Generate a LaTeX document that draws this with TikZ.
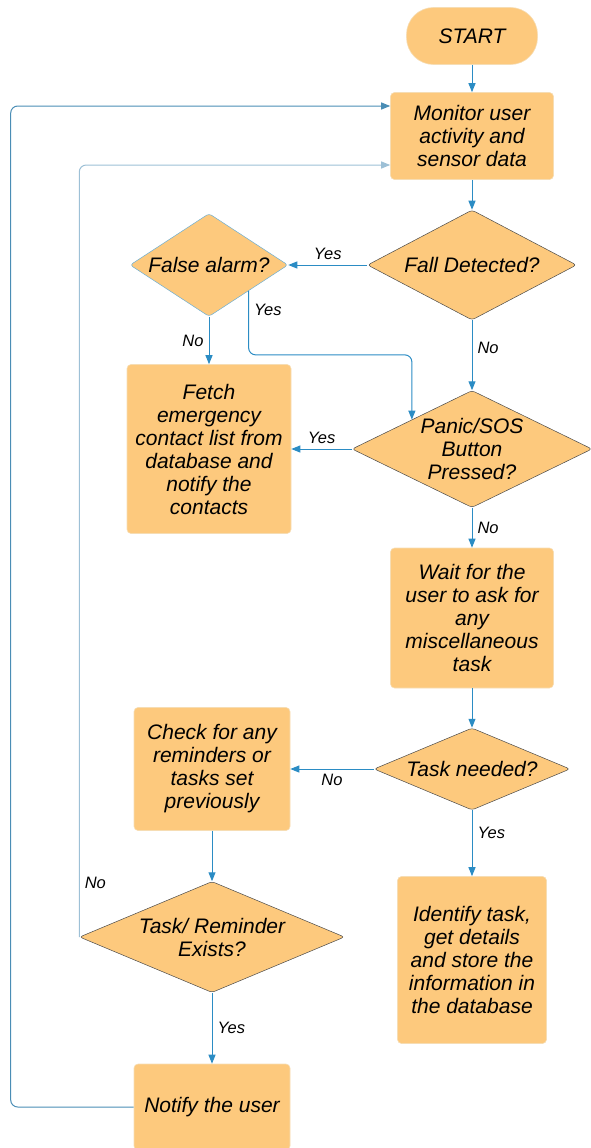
\documentclass[tikz,border=0pt]{standalone}
\usepackage{fontspec}
\setmainfont{Liberation Sans}
\usetikzlibrary{shapes.geometric,arrows.meta,calc}
\definecolor{boxfill}{HTML}{FDC97D}
\definecolor{boxedge}{HTML}{F6DDB4}
\definecolor{diaedge}{HTML}{4A4A4A}
\definecolor{arrowblue}{HTML}{2B8CC4}
\definecolor{loopblue}{HTML}{4A8DB5}
\definecolor{lightblue}{HTML}{9DC0D6}
\begin{document}
\begin{tikzpicture}[x=1pt,y=-1pt,
  txt/.style={font=\fontsize{21}{23}\selectfont\itshape},
  proc/.style={txt, rectangle, rounded corners=4pt, fill=boxfill, draw=boxedge, line width=0.6pt, align=center, inner sep=0pt},
  term/.style={txt, rectangle, rounded corners=27pt, fill=boxfill, draw=boxedge, line width=0.6pt, align=center, inner sep=0pt, minimum width=131pt, minimum height=57pt},
  dec/.style={txt, diamond, rounded corners=3pt, fill=boxfill, draw=diaedge, line width=0.5pt, align=center, inner sep=0pt},
  lbl/.style={font=\fontsize{16.5}{18}\selectfont\itshape, inner sep=5pt},
  arr/.style={draw=arrowblue, line width=1pt, -{Triangle[length=9pt,width=7pt]}},
  loopa/.style={arr, draw=loopblue, rounded corners=7pt},
  loopb/.style={arr, draw=lightblue, rounded corners=7pt}
]
\useasboundingbox (0,0) rectangle (590,1148);

\node[term] (start) at (472,36) {START};
\node[proc, minimum width=163pt, minimum height=87pt] (monitor) at (472,136) {Monitor user\\activity and\\sensor data};
\node[dec, minimum width=209pt, minimum height=110pt, aspect=1.9] (fall) at (472,265) {Fall Detected?};
\node[dec, draw=arrowblue!70, minimum width=158pt, minimum height=103pt, aspect=1.53] (false) at (209,265) {False alarm?};
\node[proc, minimum width=164pt, minimum height=169pt] (fetch) at (209,449) {Fetch\\emergency\\contact list from\\database and\\notify the\\contacts};
\node[dec, minimum width=240pt, minimum height=117pt, aspect=2.05] (panic) at (472,449) {Panic/SOS\\Button\\Pressed?};
\node[proc, minimum width=163pt, minimum height=140pt] (wait) at (472,618) {Wait for the\\user to ask for\\any\\miscellaneous\\task};
\node[dec, minimum width=196pt, minimum height=82pt, aspect=2.39] (task) at (472,769) {Task needed?};
\node[proc, minimum width=156pt, minimum height=123pt] (check) at (212,769) {Check for any\\reminders or\\tasks set\\previously};
\node[dec, minimum width=265pt, minimum height=111pt, aspect=2.39] (tr) at (212,937) {Task/ Reminder\\Exists?};
\node[proc, minimum width=149pt, minimum height=167pt] (identify) at (472,960) {Identify task,\\get details\\and store the\\information in\\the database};
\node[proc, minimum width=156pt, minimum height=86pt] (notify) at (212,1107) {Notify the user};

\draw[arr] (start) -- (monitor);
\draw[arr] (monitor) -- (fall);
\draw[arr] (fall) -- node[lbl,above]{Yes} (false);
\draw[arr] (false) -- node[lbl,left]{No} (fetch);
\draw[arr, rounded corners=7pt] (false.south east) -- node[lbl,pos=0.3,right]{Yes} ++(0,64) -| (panic.north west);
\draw[arr] (fall) -- node[lbl,right,pos=0.4]{No} (panic);
\draw[arr] (panic) -- node[lbl,above]{Yes} (fetch);
\draw[arr] (panic) -- node[lbl,right]{No} (wait);
\draw[arr] (wait) -- (task);
\draw[arr] (task) -- node[lbl,below]{No} (check);
\draw[arr] (task) -- node[lbl,right,pos=0.35]{Yes} (identify);
\draw[arr] (check) -- (tr);
\draw[arr] (tr) -- node[lbl,right]{Yes} (notify);
\draw[loopb] (tr.west) |- node[lbl,pos=0.035,right]{No} ($(monitor.west)+(0,29)$);
\draw[loopa] (notify.west) -- ++(-123,0) |- ($(monitor.west)+(0,-30)$);
\end{tikzpicture}
\end{document}
